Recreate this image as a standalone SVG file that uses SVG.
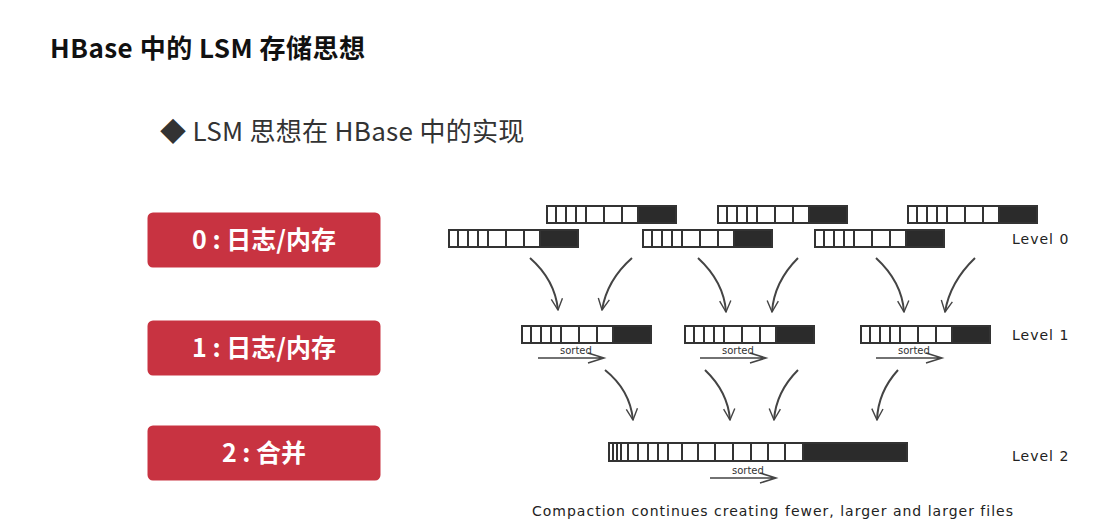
<svg xmlns="http://www.w3.org/2000/svg" xmlns:xlink="http://www.w3.org/1999/xlink" width="1105" height="528" viewBox="0 0 1105 528">
<style>
.t{font-family:"Noto Sans CJK SC","Noto Sans",sans-serif;}
.btn{fill:#c83341;stroke:#fff;stroke-width:3;}
.bt{font-family:"Noto Sans CJK SC","Noto Sans",sans-serif;font-size:25px;font-weight:bold;fill:#fff;text-anchor:middle;}
.cell{fill:#fff;stroke:#333;stroke-width:2;}
.dark{fill:#2b2b2b;stroke:#333;stroke-width:2;}
.ln{stroke:#333;stroke-width:2;}
.lv{font-family:"DejaVu Sans",sans-serif;font-size:14px;letter-spacing:1px;fill:#222;}
.arr{fill:none;stroke:#444;stroke-width:2;marker-end:url(#v);}
.srt{font-family:"DejaVu Sans",sans-serif;font-size:10px;fill:#333;}
</style>
<defs>
<marker id="v" viewBox="0 0 20 20" refX="18" refY="10" markerWidth="14" markerHeight="14" orient="auto" markerUnits="userSpaceOnUse"><path d="M2,2 L18,10 L2,18" fill="none" stroke="#444" stroke-width="2"/></marker>
<g id="bar">
<rect class="cell" x="0" y="0" width="129" height="17"/>
<rect class="dark" x="91" y="0" width="38" height="17"/>
<path class="ln" d="M9,0v17M19,0v17M29,0v17M39,0v17M57,0v17M75,0v17"/>
</g>
<g id="sorted">
<path d="M0,6 H64 M50,1 L66,6 L50,11" fill="none" stroke="#444" stroke-width="1.5"/>
<text class="srt" x="22" y="2">sorted</text>
</g>
</defs>
<rect width="1105" height="528" fill="#fff"/>
<text class="t" x="50" y="58" font-size="26" font-weight="bold" fill="#111" letter-spacing="0.5">HBase 中的 LSM 存储思想</text>
<text class="t" x="160" y="141" font-size="26" fill="#333" letter-spacing="0.3">◆ LSM 思想在 HBase 中的实现</text>
<g id="btn0"><rect class="btn" x="146" y="211" width="236" height="58" rx="7"/><text class="bt" x="264" y="249">0 : 日志/内存</text></g>
<g id="btn1"><rect class="btn" x="146" y="319" width="236" height="58" rx="7"/><text class="bt" x="264" y="357">1 : 日志/内存</text></g>
<g id="btn2"><rect class="btn" x="146" y="424" width="236" height="58" rx="7"/><text class="bt" x="264" y="462">2 : 合并</text></g>
<g id="level0">
<use xlink:href="#bar" x="547" y="206"/><use xlink:href="#bar" x="718" y="206"/><use xlink:href="#bar" x="908" y="206"/>
<use xlink:href="#bar" x="449" y="230"/><use xlink:href="#bar" x="643" y="230"/><use xlink:href="#bar" x="815" y="230"/>
<text class="lv" x="1012" y="244">Level 0</text>
</g>
<g id="level1">
<use xlink:href="#bar" x="522" y="326"/><use xlink:href="#bar" x="685" y="326"/><use xlink:href="#bar" x="861" y="326"/>
<use xlink:href="#sorted" x="538" y="352"/><use xlink:href="#sorted" x="700" y="352"/><use xlink:href="#sorted" x="876" y="352"/>
<text class="lv" x="1012" y="340">Level 1</text>
</g>
<g id="level2">
<rect class="cell" x="609" y="443" width="298" height="18"/>
<rect class="dark" x="803" y="443" width="104" height="18"/>
<path class="ln" d="M613,443v18M617,443v18M621,443v18M628,443v18M638,443v18M648,443v18M658,443v18M668,443v18M682,443v18M698,443v18M715,443v18M733,443v18M751,443v18M768,443v18M785,443v18"/>
<use xlink:href="#sorted" x="710" y="472"/>
<text class="lv" x="1012" y="461">Level 2</text>
</g>
<g id="connectors">
<path class="arr" d="M530,258 Q555,280 558,310"/>
<path class="arr" d="M632,258 Q607,280 602,310"/>
<path class="arr" d="M698,258 Q724,282 726,312"/>
<path class="arr" d="M798,258 Q774,282 772,312"/>
<path class="arr" d="M876,258 Q902,282 904,312"/>
<path class="arr" d="M975,258 Q950,282 945,312"/>
<path class="arr" d="M605,370 Q630,390 633,420"/>
<path class="arr" d="M705,370 Q728,392 730,420"/>
<path class="arr" d="M798,370 Q776,392 774,420"/>
<path class="arr" d="M898,370 Q878,392 877,420"/>
</g>
<text class="lv" x="532" y="516" font-size="15" letter-spacing="0.6">Compaction continues creating fewer, larger and larger files</text>
</svg>
